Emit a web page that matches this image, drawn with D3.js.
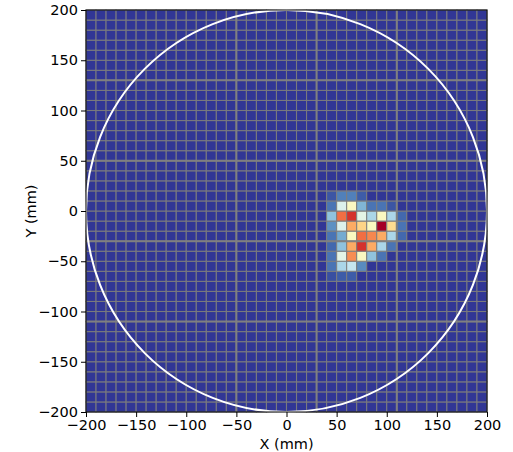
<!DOCTYPE html>
<html>
<head>
<meta charset="utf-8">
<script src="https://cdn.jsdelivr.net/npm/d3@7"></script>
<style>
  body { margin: 0; background: #fff; }
  text { font-family: "DejaVu Sans", sans-serif; }
</style>
</head>
<body>
<div id="chart"></div>
<script>
// bin edges (mm) and hit counts
const binSize = 10;
const xEdges = d3.range(-200, 200, binSize);
const yEdges = d3.range(-200, 200, binSize);
// non-empty bins: [x0, y0, count]
const hits = [
  [40, 10, 5], [50, 10, 12], [60, 10, 12], [70, 10, 6],
  [40, 0, 10], [50, 0, 40], [60, 0, 50], [70, 0, 22], [80, 0, 10], [90, 0, 10], [100, 0, 5],
  [40, -10, 25], [50, -10, 80], [60, -10, 90], [70, -10, 42], [80, -10, 30], [90, -10, 50], [100, -10, 30], [110, -10, 8],
  [40, -20, 15], [50, -20, 40], [60, -20, 70], [70, -20, 62], [80, -20, 50], [90, -20, 100], [100, -20, 60], [110, -20, 10],
  [40, -30, 10], [50, -30, 20], [60, -30, 50], [70, -30, 80], [80, -30, 76], [90, -30, 70], [100, -30, 30], [110, -30, 8],
  [40, -40, 8], [50, -40, 25], [60, -40, 70], [70, -40, 90], [80, -40, 70], [90, -40, 30], [100, -40, 10],
  [40, -50, 10], [50, -50, 42], [60, -50, 75], [70, -50, 50], [80, -50, 25], [90, -50, 10],
  [40, -60, 10], [50, -60, 30], [60, -60, 35], [70, -60, 14],
  [40, -70, 4], [50, -70, 6], [60, -70, 6]
];
const ticks = [-200, -150, -100, -50, 0, 50, 100, 150, 200];
const heavyX = [-50, 30, 110];
const heavyY = [-110, -30, 50, 130];
const radius = 200;

const margin = {top: 10, right: 26, bottom: 40, left: 86},
    width = 401,
    height = 402;

const svg = d3.select("#chart")
  .append("svg")
    .attr("width", 513)
    .attr("height", 452)
  .append("g")
    .attr("transform", `translate(${margin.left},${margin.top})`);

const x = d3.scaleLinear().domain([-200, 200]).range([0, width]);
const y = d3.scaleLinear().domain([-200, 200]).range([height, 0]);
const color = d3.scaleSequential(t => d3.interpolateRdYlBu(1 - t)).domain([0, 100]);

const counts = new Map(hits.map(d => [d[0] + "," + d[1], d[2]]));
const cells = [];
xEdges.forEach(x0 => yEdges.forEach(y0 => {
  cells.push({x0: x0, y0: y0, v: counts.get(x0 + "," + y0) || 0});
}));

svg.selectAll("rect.cell")
  .data(cells)
  .enter()
  .append("rect")
    .attr("class", "cell")
    .attr("x", d => x(d.x0))
    .attr("y", d => y(d.y0 + binSize))
    .attr("width", d => x(d.x0 + binSize) - x(d.x0))
    .attr("height", d => y(d.y0) - y(d.y0 + binSize))
    .attr("fill", d => color(d.v))
    .attr("stroke", "#7c7c7c")
    .attr("stroke-opacity", 0.9)
    .attr("stroke-width", 1.1);

// a few mesh lines look doubled
svg.selectAll("line.hx")
  .data(heavyX)
  .enter()
  .append("line")
    .attr("x1", d => x(d)).attr("x2", d => x(d))
    .attr("y1", 0).attr("y2", height)
    .attr("stroke", "#808080")
    .attr("stroke-width", 2);
svg.selectAll("line.hy")
  .data(heavyY)
  .enter()
  .append("line")
    .attr("y1", d => y(d)).attr("y2", d => y(d))
    .attr("x1", 0).attr("x2", width)
    .attr("stroke", "#808080")
    .attr("stroke-width", 2);

// detector outline
svg.append("ellipse")
  .attr("cx", x(0))
  .attr("cy", y(0))
  .attr("rx", x(radius) - x(0))
  .attr("ry", y(0) - y(radius))
  .attr("fill", "none")
  .attr("stroke", "#fff")
  .attr("stroke-width", 2);

// frame
svg.append("rect")
  .attr("width", width)
  .attr("height", height)
  .attr("fill", "none")
  .attr("stroke", "#000")
  .attr("stroke-width", 1);

const fmt = d => d < 0 ? "\u2212" + Math.abs(d) : String(d);

const xAxis = svg.append("g")
  .attr("transform", `translate(0,${height})`)
  .call(d3.axisBottom(x).tickValues(ticks).tickFormat(fmt).tickSize(5).tickPadding(3));
const yAxis = svg.append("g")
  .call(d3.axisLeft(y).tickValues(ticks).tickFormat(fmt).tickSize(5).tickPadding(3));
[xAxis, yAxis].forEach(a => {
  a.select(".domain").remove();
  a.selectAll("text").attr("font-size", 14.5).attr("fill", "#000").style("font-family", "DejaVu Sans");
  a.selectAll("line").attr("stroke", "#000");
});

svg.append("text")
  .attr("x", width / 2)
  .attr("y", height + 37)
  .attr("text-anchor", "middle")
  .attr("font-size", 14.5)
  .text("X (mm)");

svg.append("text")
  .attr("transform", `translate(-50,${height / 2}) rotate(-90)`)
  .attr("text-anchor", "middle")
  .attr("font-size", 14.5)
  .text("Y (mm)");
</script>
</body>
</html>
